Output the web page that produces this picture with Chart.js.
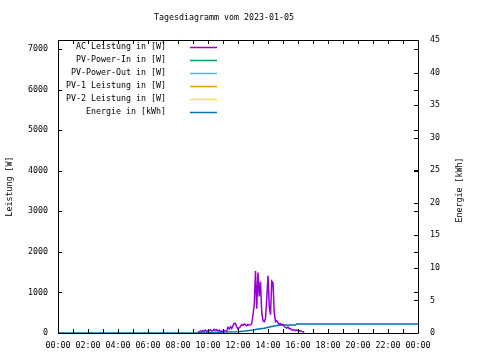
<!DOCTYPE html>
<html><head><meta charset="utf-8">
<script src="https://cdn.jsdelivr.net/npm/chart.js@4.4.1/dist/chart.umd.min.js"></script>
<style>html,body{margin:0;padding:0;background:#fff}canvas{display:block}</style>
</head><body>
<canvas id="c" width="480" height="360"></canvas>
<script>
const chartTitle = "Tagesdiagramm vom 2023-01-05";
const leftAxisTitle = "Leistung [W]";
const rightAxisTitle = "Energie [kWh]";
const seriesNames = ["AC Leistung in [W]", "PV-Power-In in [W]", "PV-Power-Out in [W]", "PV-1 Leistung in [W]", "PV-2 Leistung in [W]", "Energie in [kWh]"];
const seriesColors = ["#9400d3", "#009e73", "#56b4e9", "#e69f00", "#f0e442", "#0072b2"];
const xTickLabels = ["00:00","02:00","04:00","06:00","08:00","10:00","12:00","14:00","16:00","18:00","20:00","22:00","00:00"];
const yTickValues = [0, 1000, 2000, 3000, 4000, 5000, 6000, 7000];
const y2TickValues = [0, 5, 10, 15, 20, 25, 30, 35, 40, 45];

const acTimes = ["09:20","09:25","09:30","09:35","09:40","09:45","09:50","09:55",
 "10:00","10:05","10:10","10:15","10:20","10:25","10:30","10:35","10:40","10:45","10:50","10:55",
 "11:00","11:05","11:10","11:15","11:20","11:25","11:30","11:35","11:40","11:45","11:50","11:55",
 "12:00","12:05","12:10","12:15","12:20","12:25","12:30","12:35","12:40","12:45","12:50","12:55",
 "13:00","13:05","13:10","13:15","13:20","13:25","13:30","13:35","13:40","13:45","13:50","13:55",
 "14:00","14:05","14:10","14:15","14:20","14:25","14:30","14:35","14:40","14:45","14:50","14:55",
 "15:00","15:05","15:10","15:15","15:20","15:25","15:30","15:35","15:40","15:45","15:50","15:55",
 "16:00","16:05","16:10","16:15","16:20","16:25"];
const acPower = [20,30,50,30,60,40,70,40,
 60,50,80,50,60,90,60,80,50,70,40,50,
 40,60,50,45,140,100,150,110,180,240,230,150,
 100,130,160,210,190,220,200,180,210,190,200,230,
 450,700,1530,600,1490,900,1270,500,300,280,350,860,
 1410,650,450,1280,1240,500,280,300,250,220,230,200,
 210,160,140,120,150,100,110,80,70,80,60,70,
 60,50,55,40,30,15];
const pvPowerIn = [];
const pvPowerOut = [];
const pv1Power = [];
const pv2Power = [];
const energyTimes = ["00:00","09:30","10:45","11:00","12:00","12:30","13:00","13:15","13:45","14:10","14:30","14:50","15:50","15:55","24:00"];
const energyKwh = [0,0,0.1,0.15,0.2,0.3,0.45,0.57,0.72,0.97,1.12,1.23,1.23,1.38,1.38];

const FONT = "DejaVu Sans Mono";
const FS = 8.3;
function toHours(s){const p=s.split(":");return +p[0]+(+p[1])/60;}
function pts(times, vals){return times.map((t,i)=>({x:toHours(t), y:vals[i]}));}

Chart.defaults.font.family = FONT;
Chart.defaults.font.size = FS;
Chart.defaults.color = "#000";

const frame = {
  id: "frame",
  afterDraw(chart){
    const {ctx, chartArea:a, scales} = chart;
    ctx.save();
    ctx.strokeStyle = "#000";
    ctx.lineWidth = 1;
    ctx.beginPath();
    ctx.rect(Math.round(a.left)+0.5, Math.round(a.top)+0.5, Math.round(a.right-a.left), Math.round(a.bottom-a.top));
    ctx.stroke();
    const L = 4;
    ctx.beginPath();
    for (let h = 0; h <= 24; h++) {
      const px = Math.round(scales.x.getPixelForValue(h)) + 0.5;
      ctx.moveTo(px, a.bottom); ctx.lineTo(px, a.bottom - L);
      ctx.moveTo(px, a.top); ctx.lineTo(px, a.top + L);
    }
    scales.y.ticks.forEach(t => {
      const py = Math.round(scales.y.getPixelForValue(t.value)) + 0.5;
      ctx.moveTo(a.left, py); ctx.lineTo(a.left + L, py);
      ctx.moveTo(a.right, py); ctx.lineTo(a.right - L, py);
    });
    scales.y2.ticks.forEach(t => {
      const py = Math.round(scales.y2.getPixelForValue(t.value)) + 0.5;
      ctx.moveTo(a.right, py); ctx.lineTo(a.right - L, py);
    });
    ctx.stroke();
    ctx.fillStyle = "#000";
    ctx.font = FS + "px '" + FONT + "'";
    ctx.textAlign = "center";
    ctx.textBaseline = "middle";
    ctx.fillText(chartTitle, 224, 18);
    ctx.save();
    ctx.translate(460, 190);
    ctx.rotate(-Math.PI/2);
    ctx.fillText(rightAxisTitle, 0, 0);
    ctx.restore();
    chart.data.datasets.forEach((ds, i) => {
      const y = 47 + i * 13;
      ctx.textAlign = "right";
      ctx.fillStyle = "#000";
      ctx.fillText(ds.label, 166, y);
      ctx.strokeStyle = ds.borderColor;
      ctx.lineWidth = 1.5;
      ctx.beginPath();
      ctx.moveTo(190, y + 0.5); ctx.lineTo(217, y + 0.5);
      ctx.stroke();
    });
    ctx.restore();
  }
};

new Chart(document.getElementById("c"), {
  type: "line",
  data: {
    datasets: [
      {label: seriesNames[0], data: pts(acTimes, acPower), borderColor: seriesColors[0], yAxisID: "y"},
      {label: seriesNames[1], data: pvPowerIn, borderColor: seriesColors[1], yAxisID: "y"},
      {label: seriesNames[2], data: pvPowerOut, borderColor: seriesColors[2], yAxisID: "y"},
      {label: seriesNames[3], data: pv1Power, borderColor: seriesColors[3], yAxisID: "y"},
      {label: seriesNames[4], data: pv2Power, borderColor: seriesColors[4], yAxisID: "y"},
      {label: seriesNames[5], data: pts(energyTimes, energyKwh), borderColor: seriesColors[5], yAxisID: "y2"}
    ]
  },
  options: {
    responsive: false,
    animation: false,
    devicePixelRatio: 1,
    layout: {padding: {top: 40, left: 0, right: 0, bottom: 0}},
    elements: {point: {radius: 0}, line: {borderWidth: 1.5, tension: 0}},
    plugins: {legend: {display: false}, title: {display: false}, tooltip: {enabled: false}},
    scales: {
      x: {
        type: "linear", min: 0, max: 24,
        grid: {display: false, drawTicks: false}, border: {display: false},
        ticks: {stepSize: 2, padding: 8, maxRotation: 0, autoSkip: false, includeBounds: false,
          callback: v => xTickLabels[Math.round(v / 2)]},
        afterFit: s => { s.height = 27; }
      },
      y: {
        position: "left", min: 0, max: 7222,
        grid: {display: false, drawTicks: false}, border: {display: false},
        ticks: {padding: 10, autoSkip: false, callback: v => String(v)},
        afterBuildTicks: s => { s.ticks = yTickValues.map(v => ({value: v})); },
        title: {display: true, text: leftAxisTitle, padding: {top: 4.5, bottom: 0}},
        afterFit: s => { s.width = 58; }
      },
      y2: {
        position: "right", min: 0, max: 45,
        grid: {display: false, drawTicks: false}, border: {display: false},
        ticks: {padding: 12, autoSkip: false, callback: v => String(v)},
        afterBuildTicks: s => { s.ticks = y2TickValues.map(v => ({value: v})); },
        afterFit: s => { s.width = 62; }
      }
    }
  },
  plugins: [frame]
});
</script>
</body></html>
